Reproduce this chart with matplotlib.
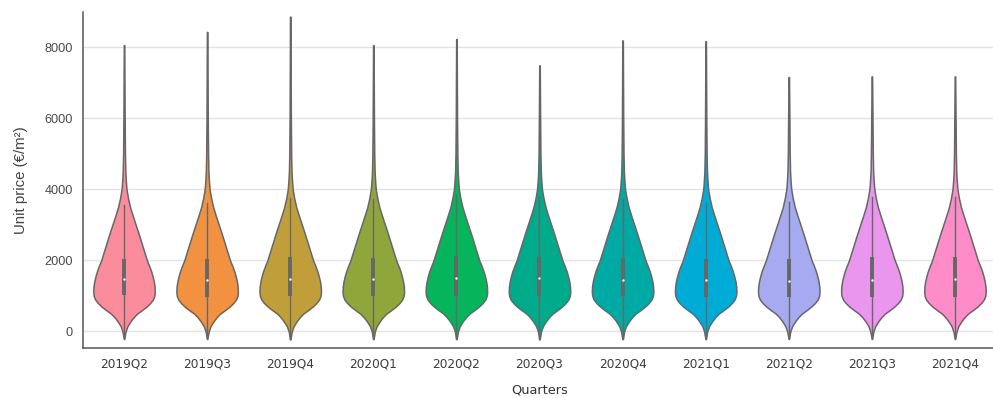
import numpy as np
import matplotlib
matplotlib.use("Agg")
import matplotlib.pyplot as plt

# quarters on the x axis
quarters = ["2019Q2", "2019Q3", "2019Q4", "2020Q1", "2020Q2", "2020Q3",
            "2020Q4", "2021Q1", "2021Q2", "2021Q3", "2021Q4"]

# per-quarter summary of unit prices (EUR/m2)
price_min = [-200, -200, -220, -210, -210, -220, -210, -210, -200, -200, -200]
price_max = [8060, 8430, 8860, 8060, 8230, 7490, 8190, 8170, 7160, 7180, 7180]
q1 = [1020, 980, 990, 990, 990, 1000, 990, 980, 970, 970, 980]
median = [1470, 1440, 1490, 1490, 1510, 1510, 1460, 1450, 1430, 1440, 1470]
q3 = [2040, 2030, 2100, 2080, 2130, 2110, 2080, 2040, 2040, 2100, 2100]

# shared kernel density shape (relative to the peak), by price level
density_levels = [0, 150, 300, 400, 500, 600, 700, 800, 900, 1000, 1100,
                  1250, 1400, 1550, 1700, 1850, 2000, 2250, 2500, 2750,
                  3000, 3250, 3500, 3750, 4000, 4250, 4500, 5000, 6000]
density_rel = [0.05, 0.11, 0.22, 0.31, 0.42, 0.58, 0.73, 0.85, 0.94, 0.985, 1.0,
               0.995, 0.97, 0.93, 0.88, 0.815, 0.745, 0.655, 0.565, 0.475,
               0.38, 0.285, 0.195, 0.13, 0.08, 0.058, 0.042, 0.03, 0.02]
tail_rel = 0.013

colors = ["#fb8c9c", "#f2913f", "#c09f3b", "#8ea63a", "#06b45c", "#00ab8c",
          "#00aaa4", "#00acd6", "#a6aaf0", "#ea96ee", "#fe8cc9"]

half_width = 0.37
edge = "#676767"

fig = plt.figure(figsize=(9.93, 3.98), dpi=100)
ax = fig.add_axes([82.5 / 993, 1 - 348 / 398, 914 / 993, (348 - 11.7) / 398])

for i, q in enumerate(quarters):
    ys = np.array([price_min[i]] + density_levels + [price_max[i]], dtype=float)
    ws = np.array([tail_rel * 0.6] + density_rel + [tail_rel * 0.6]) * half_width
    ax.fill_betweenx(ys, i - ws, i + ws, facecolor=colors[i], edgecolor=edge,
                     linewidth=1.1, zorder=2)
    # inner box: whisker, interquartile box and median dot
    iqr = q3[i] - q1[i]
    ax.plot([i, i], [price_min[i], min(q3[i] + 1.5 * iqr, price_max[i])],
            color=edge, linewidth=1.0, zorder=3)
    ax.plot([i, i], [q1[i], q3[i]], color=edge, linewidth=2.8,
            solid_capstyle="butt", zorder=3)
    ax.scatter([i], [median[i]], s=3, color="white", zorder=4, linewidths=0)

ax.set_xlim(-0.5, len(quarters) - 0.5)
ax.set_ylim(-465, 9000)
ax.set_xticks(range(len(quarters)))
ax.set_xticklabels(quarters, fontfamily="DejaVu Sans", fontsize=8.7,
                   color="#3c3c3c")
ax.set_yticks([0, 2000, 4000, 6000, 8000])
ax.set_yticklabels(["0", "2000", "4000", "6000", "8000"],
                   fontfamily="Liberation Sans", fontsize=9.2, color="#4a4a4a")
ax.tick_params(axis="both", length=0)
ax.tick_params(axis="x", pad=6.5)
ax.tick_params(axis="y", pad=7)

ax.grid(axis="y", color="#e3e3e3", linewidth=1.0, zorder=0)
ax.set_axisbelow(True)
for s in ["top", "right"]:
    ax.spines[s].set_visible(False)
for s in ["left", "bottom"]:
    ax.spines[s].set_color("#555555")
    ax.spines[s].set_linewidth(1.1)

ax.set_xlabel("Quarters", fontfamily="DejaVu Sans", fontsize=9.3,
              color="#333333", labelpad=10)
ax.set_ylabel("Unit price (€/m²)", fontfamily="Liberation Sans", fontsize=10.8,
              color="#444444", labelpad=12)

fig.savefig("out.png", dpi=100)
